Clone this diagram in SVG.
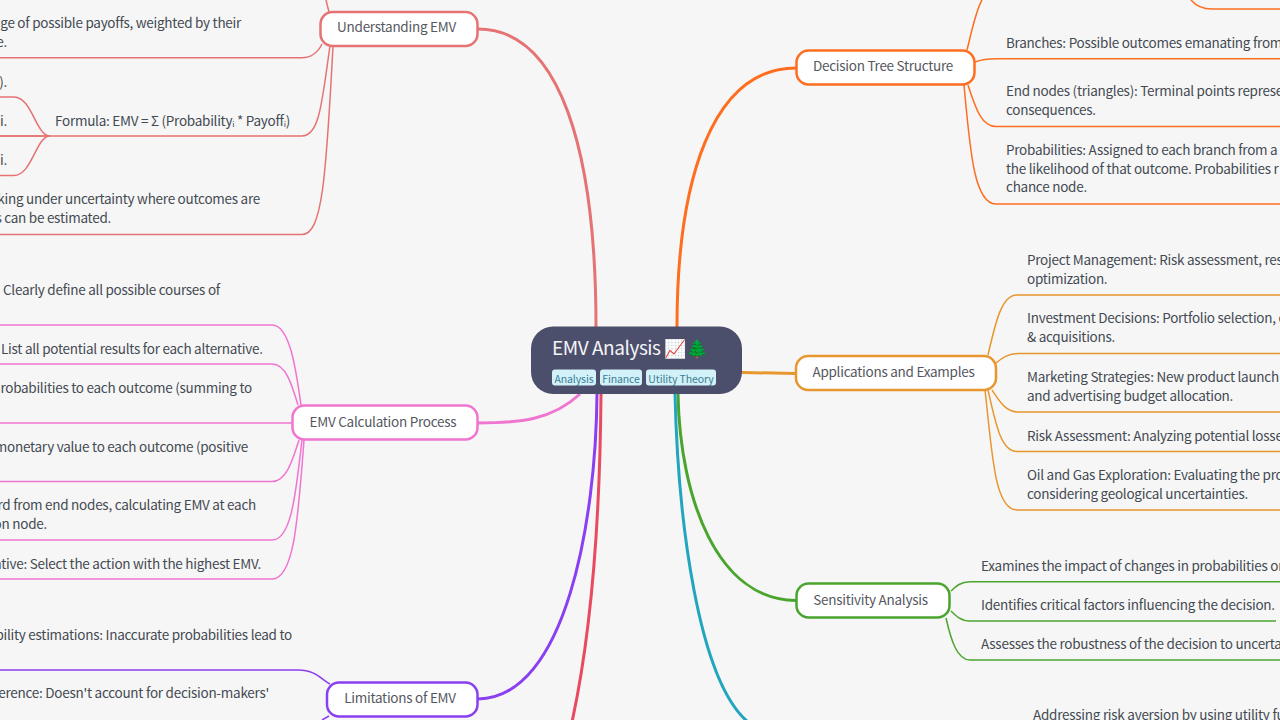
<svg xmlns="http://www.w3.org/2000/svg" width="1280" height="720" viewBox="0 0 1280 720">
<style>
text{font-family:"Noto Sans CJK SC","Noto Sans",sans-serif;font-size:13.5px;letter-spacing:-.26px;fill:#444a52}
.e{text-anchor:end}
.m{text-anchor:middle;fill:#55585f}
.c path{fill:none;stroke-width:1.5}
.r path{fill:none;stroke-width:3}
.n{fill:#fff;stroke-width:2.5}
.tag{fill:#d3f1f8}
.tt{font-size:10.5px;letter-spacing:-.1px;fill:#3a7f96;text-anchor:middle}
</style>
<rect width="1280" height="720" fill="#f6f6f6"/>
<g id="connectors">
<g class="r">
<path stroke="#e57373" d="M596 327C596 150 560 29 478 29"/>
<path stroke="#ff6d1f" d="M677 327C677 180 712 68 796 68"/>
<path stroke="#e8962e" d="M742 372.500L796 373.500"/>
<path stroke="#4aa52e" d="M678 394C680 500 718 600 796 600.500"/>
<path stroke="#22a5bf" d="M675 394C678 520 698 680 748 722"/>
<path stroke="#8a3ff0" d="M597 394C596 520 566 698 478 699"/>
<path stroke="#e84a5f" d="M601 394C600 520 592 630 572 722"/>
<path stroke="#f075d0" d="M580 394C552 420 520 423 478 423"/>
</g>
<g class="c" stroke="#e57373">
<path d="M329 12L326 0"/>
<path d="M0 57.700H302C312 57.700 318 52 322 44"/>
<path d="M0 136H302C320 136 322 100 330 46"/>
<path d="M50 136C36 136 32 97 14 97H0"/>
<path d="M50 136H0"/>
<path d="M50 136C36 136 32 175.500 14 175.500H0"/>
<path d="M0 234.500H302C322 234.500 326 180 333 46"/>
</g>
<g class="c" stroke="#f075d0">
<path d="M0 325H272C290 325 296 370 301 405"/>
<path d="M0 364H272C286 364 292 385 298 405"/>
<path d="M0 423H292"/>
<path d="M0 481.500H272C286 481.500 292 462 299 440"/>
<path d="M0 540H272C292 540 296 490 302 440"/>
<path d="M0 579H272C294 579 298 520 304 440"/>
</g>
<g class="c" stroke="#8a3ff0">
<path d="M0 670H298C316 670 322 680 330 684"/>
<path d="M329 716L322 720"/>
</g>
<g class="c" stroke="#ff6d1f">
<path d="M967 50C972 30 976 10 982 0"/>
<path d="M1191 0C1196 6 1204 9 1212 9H1280"/>
<path d="M975 62C982 59 990 58.700 998 58.700H1280"/>
<path d="M968 85C976 110 982 126.500 996 126.500H1280"/>
<path d="M964 85C970 150 974 204 996 204H1280"/>
</g>
<g class="c" stroke="#e8962e">
<path d="M988 355C996 320 1002 295 1017 295H1280"/>
<path d="M996 363C1002 358 1008 353.500 1018 353.500H1280"/>
<path d="M992 390C1000 402 1006 412 1018 412H1280"/>
<path d="M988 390C996 425 1001 451.500 1017 451.500H1280"/>
<path d="M985 390C992 450 994 510 1017 510H1280"/>
</g>
<g class="c" stroke="#4aa52e">
<path d="M951 591C956 586 961 581.700 970 581.700H1280"/>
<path d="M951 611C956 616 961 621 970 621H1276"/>
<path d="M946 618C951 640 957 660 970 660H1280"/>
</g>
</g>
<g id="root">
<rect x="531" y="326.500" width="211" height="67.500" rx="22" fill="#4c4f6b"/>
<text x="552" y="355" style="font-size:19px;letter-spacing:-.45px;fill:#f4f4f8">EMV Analysis</text>
<text x="664" y="355" style="font-size:18px;letter-spacing:0;fill:#f4f4f8">📈🌲</text>
<rect class="tag" x="552" y="369.500" width="44" height="16" rx="3"/><text class="tt" x="574" y="382.500">Analysis</text>
<rect class="tag" x="600" y="369.500" width="42" height="16" rx="3"/><text class="tt" x="621" y="382.500">Finance</text>
<rect class="tag" x="646" y="369.500" width="70" height="16" rx="3"/><text class="tt" x="681" y="382.500">Utility Theory</text>
</g>
<g id="understanding"><rect class="n" x="320.500" y="12" width="157" height="34" rx="12" stroke="#e57373"/><text class="m" x="396.500" y="32">Understanding EMV</text></g>
<g id="calc"><rect class="n" x="292.500" y="405.500" width="185" height="34" rx="12" stroke="#f075d0"/><text class="m" x="383" y="426.500">EMV Calculation Process</text></g>
<g id="limitations"><rect class="n" x="327" y="682.500" width="150.500" height="34" rx="12" stroke="#8a3ff0"/><text class="m" x="400" y="703">Limitations of EMV</text></g>
<g id="decision"><rect class="n" x="796.500" y="50.500" width="178" height="34" rx="12" stroke="#ff6d1f"/><text class="m" x="883" y="71">Decision Tree Structure</text></g>
<g id="applications"><rect class="n" x="796" y="356" width="200" height="34" rx="12" stroke="#e8962e"/><text class="m" x="893.500" y="376.500">Applications and Examples</text></g>
<g id="sensitivity"><rect class="n" x="796.500" y="583.500" width="153" height="34" rx="12" stroke="#4aa52e"/><text class="m" x="870.500" y="604.500">Sensitivity Analysis</text></g>
<g id="leaf-understanding">
<text class="e" x="241" y="28">ge of possible payoffs, weighted by their</text>
<text class="e" x="7" y="47">e.</text>
<text class="e" x="7" y="87">).</text>
<text class="e" x="7" y="126">i.</text>
<text class="e" x="7" y="165">i.</text>
<text x="55" y="126">Formula: EMV = Σ (Probabilityᵢ * Payoffᵢ)</text>
<text class="e" x="260" y="204">king under uncertainty where outcomes are</text>
<text class="e" x="111" y="223">s can be estimated.</text>
</g>
<g id="leaf-calc">
<text x="3" y="295">Clearly define all possible courses of</text>
<text x="1" y="354">List all potential results for each alternative.</text>
<text class="e" x="252" y="393">robabilities to each outcome (summing to</text>
<text class="e" x="248" y="452">monetary value to each outcome (positive</text>
<text class="e" x="256" y="510">rd from end nodes, calculating EMV at each</text>
<text class="e" x="47" y="529">on node.</text>
<text class="e" x="261" y="569">ative: Select the action with the highest EMV.</text>
</g>
<g id="leaf-limitations">
<text class="e" x="292" y="640">bility estimations: Inaccurate probabilities lead to</text>
<text class="e" x="269" y="698">ference: Doesn't account for decision-makers'</text>
</g>
<g id="leaf-decision">
<text x="1006" y="48">Branches: Possible outcomes emanating from</text>
<text x="1006" y="96">End nodes (triangles): Terminal points represe</text>
<text x="1006" y="115">consequences.</text>
<text x="1006" y="155">Probabilities: Assigned to each branch from a c</text>
<text x="1006" y="174">the likelihood of that outcome.  Probabilities r</text>
<text x="1006" y="192">chance node.</text>
</g>
<g id="leaf-applications">
<text x="1027" y="265">Project Management: Risk assessment, res</text>
<text x="1027" y="284">optimization.</text>
<text x="1027" y="323">Investment Decisions: Portfolio selection, c</text>
<text x="1027" y="342">&amp; acquisitions.</text>
<text x="1027" y="382">Marketing Strategies: New product launch</text>
<text x="1027" y="401">and advertising budget allocation.</text>
<text x="1027" y="441">Risk Assessment: Analyzing potential losse</text>
<text x="1027" y="480">Oil and Gas Exploration: Evaluating the pro</text>
<text x="1027" y="499">considering geological uncertainties.</text>
</g>
<g id="leaf-sensitivity">
<text x="981" y="571">Examines the impact of changes in probabilities or</text>
<text x="981" y="610">Identifies critical factors influencing the decision.</text>
<text x="981" y="649">Assesses the robustness of the decision to uncerta</text>
</g>
<g id="leaf-blue"><text x="1033" y="720">Addressing risk aversion by using utility fu</text></g>
</svg>
